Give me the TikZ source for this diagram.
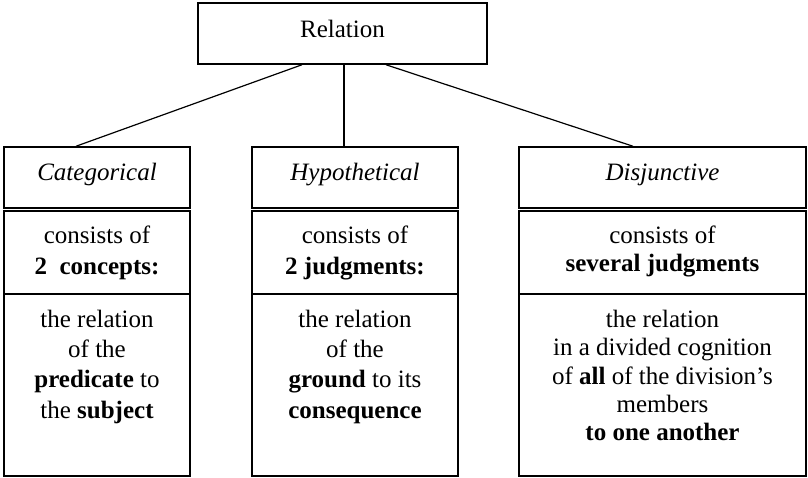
\documentclass[tikz,border=0pt]{standalone}
\usepackage{fontspec}
\setmainfont{Liberation Serif}
\usetikzlibrary{calc}
\begin{document}
\begin{tikzpicture}[x=1pt,y=-1pt,
  boxstyle/.style={draw=black,line width=1.5pt,inner sep=0pt,fill=none},
  txt/.style={anchor=base,inner sep=0pt,font=\fontsize{25}{30}\selectfont},
  conn/.style={draw=black,line width=1.2pt}]
\useasboundingbox (0,0) rectangle (808,477);
% top box
\node[boxstyle,minimum width=289pt,minimum height=61pt] (rel) at (342.5,33.5) {};
\node[txt] (relt) at (342.5,37) {Relation};
% column boxes
\node[boxstyle,minimum width=186pt,minimum height=61pt] (cat) at (97,177.5) {};
\node[boxstyle,minimum width=186pt,minimum height=83pt] (cat2) at (97,252.5) {};
\node[boxstyle,minimum width=186pt,minimum height=182pt] (cat3) at (97,385) {};
\node[boxstyle,minimum width=206pt,minimum height=61pt] (hyp) at (355,177.5) {};
\node[boxstyle,minimum width=206pt,minimum height=83pt] (hyp2) at (355,252.5) {};
\node[boxstyle,minimum width=206pt,minimum height=182pt] (hyp3) at (355,385) {};
\node[boxstyle,minimum width=287pt,minimum height=61pt] (dis) at (662.5,177.5) {};
\node[boxstyle,minimum width=287pt,minimum height=83pt] (dis2) at (662.5,252.5) {};
\node[boxstyle,minimum width=287pt,minimum height=182pt] (dis3) at (662.5,385) {};
% connectors
\draw[conn] ([xshift=-40.5pt]rel.south) -- ([xshift=-21pt]cat.north);
\draw[conn] ([xshift=1.5pt]rel.south) -- ([xshift=-11pt]hyp.north);
\draw[conn] ([xshift=43.5pt]rel.south) -- ([xshift=-29.5pt]dis.north);
% titles
\node[txt] (catt) at (97,180) {\itshape Categorical};
\node[txt] (hypt) at (355,180) {\itshape Hypothetical};
\node[txt] (dist) at (662.5,180) {\itshape Disjunctive};
% section 2
\node[txt] (cata) at (97,243) {consists of};
\node[txt] (catb) at (97,274) {\textbf{2\ \ concepts:}};
\node[txt] (hypa) at (355,243) {consists of};
\node[txt] (hypb) at (355,274) {\textbf{2 judgments:}};
\node[txt] (disa) at (662.5,243) {consists of};
\node[txt] (disb) at (662.5,271) {\textbf{several judgments}};
% section 3
\node[txt] (catc) at (97,327) {the relation};
\node[txt] (catd) at (97,357) {of the};
\node[txt] (cate) at (97,387) {\textbf{predicate} to};
\node[txt] (catf) at (97,418) {the \textbf{subject}};
\node[txt] (hypc) at (355,327) {the relation};
\node[txt] (hypd) at (355,357) {of the};
\node[txt] (hype) at (355,387) {\textbf{ground} to its};
\node[txt] (hypf) at (355,418) {\textbf{consequence}};
\node[txt] (disc) at (662.5,327) {the relation};
\node[txt] (disd) at (662.5,355) {in a divided cognition};
\node[txt] (dise) at (662.5,384) {of \textbf{all} of the division’s};
\node[txt] (disf) at (662.5,412) {members};
\node[txt] (disg) at (662.5,440) {\textbf{to one another}};
\end{tikzpicture}
\end{document}
